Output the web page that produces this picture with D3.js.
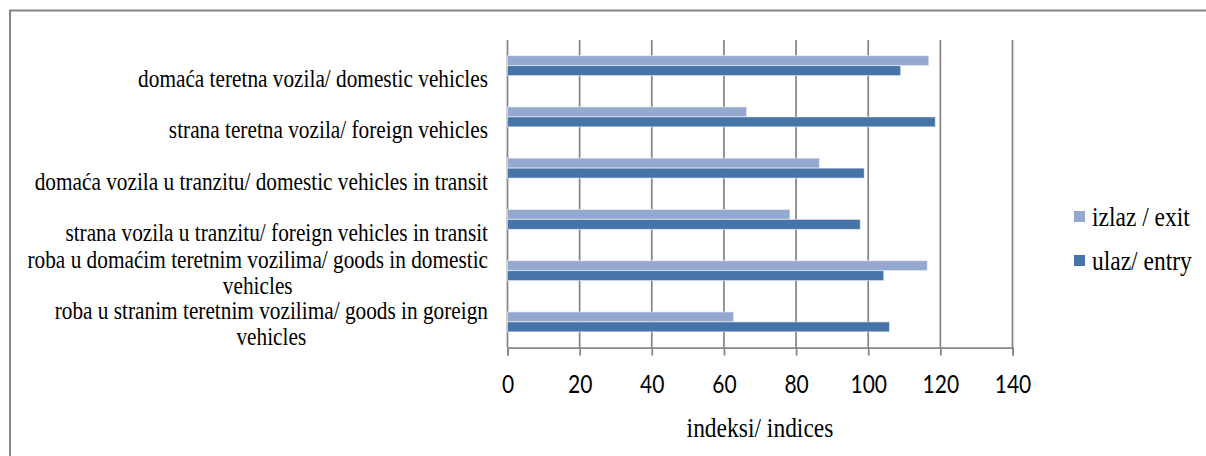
<!DOCTYPE html>
<html>
<head>
<meta charset="utf-8">
<script src="https://cdn.jsdelivr.net/npm/d3@7"></script>
<style>
  body { margin: 0; background: #fff; }
  svg { display: block; }
</style>
</head>
<body>
<div id="vis"></div>
<script>
// categories, top to bottom ('\n' marks a line break in the label)
var categories = [
  'domaća teretna vozila/ domestic vehicles',
  'strana teretna vozila/ foreign vehicles',
  'domaća vozila u tranzitu/ domestic vehicles in transit',
  'strana vozila u tranzitu/ foreign vehicles in transit',
  'roba u domaćim teretnim vozilima/ goods in domestic\nvehicles',
  'roba u stranim teretnim vozilima/ goods in goreign\nvehicles'
];

// indices
var exitValues = [116.8, 66.3, 86.5, 78.3, 116.4, 62.7];
var entryValues = [109.0, 118.6, 98.9, 97.8, 104.3, 105.9];

var seriesNames = ['izlaz / exit', 'ulaz/ entry'];
var seriesColors = ['#95a9d0', '#4674a8'];

var xTicks = [0, 20, 40, 60, 80, 100, 120, 140];
var axisTitle = 'indeksi/ indices';

// sizes
var width = 1206;
var height = 456;
var plot = { left: 507.5, right: 1012.5, top: 40, bottom: 347.5 };
var gridColor = '#868686';
var serif = 'Liberation Serif';
var sans = 'Lato';
var stretch = 1.15; // the source picture is a bit taller than wide

var svg = d3.select('#vis')
  .append('svg')
  .attr('width', width)
  .attr('height', height);

// place a text at x,y and stretch it vertically like the source
function put(sel, px, py) {
  return sel.attr('x', 0).attr('y', 0)
    .attr('transform', 'translate(' + px + ',' + py + ') scale(1,' + stretch + ')');
}

// outer frame, only the left and top edges are inside the picture
svg.append('path')
  .attr('d', 'M10,' + height + 'V10.5H' + width)
  .attr('fill', 'none')
  .attr('stroke', gridColor)
  .attr('stroke-width', 2);

var x = d3.scaleLinear()
  .domain([0, 140])
  .range([plot.left, plot.right]);

var y = d3.scaleBand()
  .domain(d3.range(categories.length))
  .range([plot.top, plot.bottom])
  .paddingInner(0.61)
  .paddingOuter(0.305);

var ySeries = d3.scaleBand()
  .domain([0, 1])
  .range([0, y.bandwidth()]);

// vertical gridlines
svg.append('g')
  .selectAll('line')
  .data(xTicks)
  .enter().append('line')
  .attr('x1', function (d) { return x(d); })
  .attr('x2', function (d) { return x(d); })
  .attr('y1', plot.top)
  .attr('y2', plot.bottom)
  .attr('stroke', gridColor)
  .attr('stroke-width', 1.75);

// bottom axis
var xAxis = d3.axisBottom(x)
  .tickValues(xTicks)
  .tickSize(8)
  .tickFormat(d3.format('d'));

svg.append('g')
  .attr('transform', 'translate(0,' + plot.bottom + ')')
  .call(xAxis)
  .call(function (g) {
    g.select('.domain').attr('stroke', gridColor).attr('stroke-width', 1.75);
    g.selectAll('.tick line').attr('stroke', gridColor).attr('stroke-width', 1.75);
    g.selectAll('.tick text')
      .call(put, 0, 37)
      .attr('dy', '0.36em')
      .attr('fill', '#000')
      .attr('font-family', sans)
      .attr('font-size', 21);
    g.attr('font-family', null).attr('font-size', null);
  });

// bars
var rows = categories.map(function (c, i) {
  return { i: i, values: [exitValues[i], entryValues[i]] };
});

var groups = svg.append('g')
  .selectAll('g')
  .data(rows)
  .enter().append('g')
  .attr('transform', function (d) { return 'translate(0,' + y(d.i) + ')'; });

groups.selectAll('rect')
  .data(function (d) { return d.values.map(function (v, s) { return { s: s, v: v }; }); })
  .enter().append('rect')
  .attr('x', x(0))
  .attr('y', function (d) { return ySeries(d.s); })
  .attr('width', function (d) { return x(d.v) - x(0); })
  .attr('height', ySeries.bandwidth())
  .attr('fill', function (d) { return seriesColors[d.s]; })
  .attr('stroke', '#fff')
  .attr('stroke-opacity', 0.55)
  .attr('stroke-width', 1);

// category labels
var labels = svg.append('g')
  .attr('font-family', serif)
  .attr('font-size', 21.3)
  .attr('fill', '#000');

categories.forEach(function (c, i) {
  var lines = c.split('\n');
  var cy = y(i) + y.bandwidth() / 2;
  var labelRight = 488;
  if (lines.length === 1) {
    labels.append('text')
      .call(put, labelRight, cy + 13)
      .attr('dy', '0.35em')
      .attr('text-anchor', 'end')
      .text(lines[0]);
  } else {
    // one text, second line centred under the first
    var t = labels.append('text')
      .call(put, 0, cy - 11);
    var first = t.append('tspan')
      .attr('x', labelRight)
      .attr('dy', '0.35em')
      .attr('text-anchor', 'end')
      .text(lines[0]);
    var w = first.node().getComputedTextLength();
    t.append('tspan')
      .attr('x', labelRight - w / 2)
      .attr('dy', 26 / stretch)
      .attr('text-anchor', 'middle')
      .text(lines[1]);
  }
});

// axis title
svg.append('text')
  .call(put, (plot.left + plot.right) / 2, 427.5)
  .attr('dy', '0.35em')
  .attr('text-anchor', 'middle')
  .attr('font-family', serif)
  .attr('font-size', 23.5)
  .text(axisTitle);

// legend
var legend = svg.append('g')
  .selectAll('g')
  .data(seriesNames)
  .enter().append('g')
  .attr('transform', function (d, i) { return 'translate(1074,' + (211 + i * 44) + ')'; });

legend.append('rect')
  .attr('width', 11)
  .attr('height', 11)
  .attr('fill', function (d, i) { return seriesColors[i]; });

legend.append('text')
  .call(put, 18, 5.5)
  .attr('dy', '0.35em')
  .attr('font-family', serif)
  .attr('font-size', 23.5)
  .text(function (d) { return d; });
</script>
</body>
</html>
